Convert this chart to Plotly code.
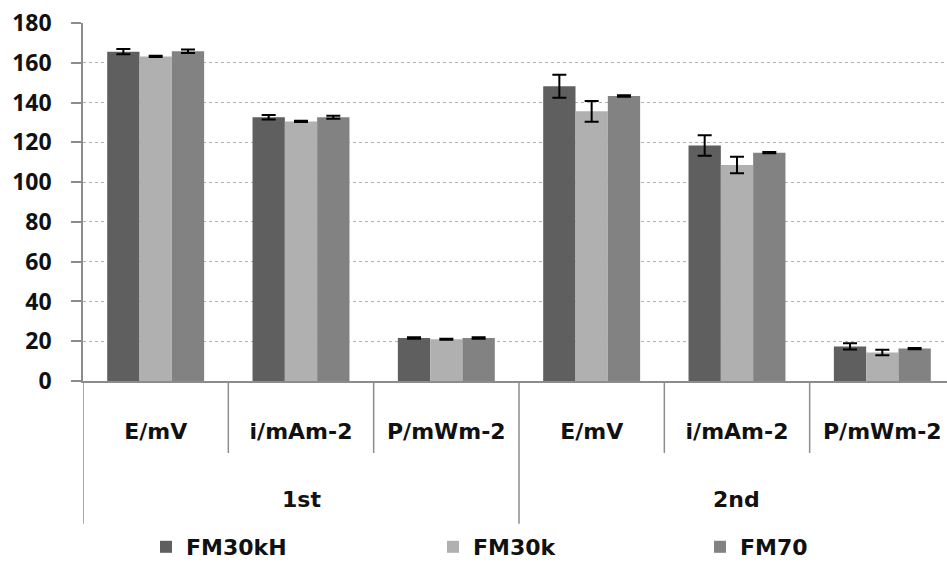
import plotly.graph_objects as go

# Measurement labels, two test rounds
rounds = ["1st", "2nd"]
measures = ["E/mV", "i/mAm-2", "P/mWm-2"]
tick_labels = measures * len(rounds)

series_names = ["FM30kH", "FM30k", "FM70"]
series_colors = ["#5f5f5f", "#b0b0b0", "#828282"]

# Mean values per measurement (1st round then 2nd round)
fm30kh_vals = [165.6, 132.6, 21.6, 148.2, 118.4, 17.4]
fm30k_vals = [163.2, 130.5, 21.0, 135.6, 108.6, 14.3]
fm70_vals = [165.8, 132.6, 21.6, 143.3, 114.8, 16.3]

# Standard deviations
fm30kh_err = [1.3, 1.1, 0.4, 5.8, 5.2, 1.6]
fm30k_err = [0.3, 0.3, 0.3, 5.2, 4.2, 1.4]
fm70_err = [0.9, 0.8, 0.4, 0.4, 0.3, 0.3]

values = [fm30kh_vals, fm30k_vals, fm70_vals]
errors = [fm30kh_err, fm30k_err, fm70_err]

positions = list(range(len(tick_labels)))

axis_gray = "#8c8c8c"
label_font = dict(family="DejaVu Sans", size=22, color="#111111", weight="bold")

# Each series gets its own legend box so the three entries spread out
legend_ids = ["legend", "legend2", "legend3"]
legend_x = [146, 433, 700]

fig = go.Figure()
for name, color, vals, errs, lid in zip(series_names, series_colors,
                                        values, errors, legend_ids):
    fig.add_trace(go.Bar(
        name=name,
        x=positions,
        y=vals,
        legend=lid,
        marker=dict(color=color, line=dict(width=0)),
        error_y=dict(type="data", array=errs, visible=True,
                     color="#000000", thickness=2, width=7),
    ))

# Divider lines under the category axis
shapes = []
n_per_round = len(measures)
for i in range(len(tick_labels)):
    xpos = i - 0.5
    y_end = -0.399 if i % n_per_round == 0 else -0.201
    shapes.append(dict(type="line", xref="x", yref="paper",
                       x0=xpos, x1=xpos, y0=0, y1=y_end,
                       line=dict(color=axis_gray, width=1.5)))

# Round labels centred under each group
annotations = []
for r, rname in enumerate(rounds):
    centre = r * n_per_round + (n_per_round - 1) / 2
    annotations.append(dict(text=rname, x=centre, xref="x", y=-0.332,
                            yref="paper", showarrow=False,
                            font=label_font, yanchor="middle"))

legend_layout = {}
for lid, lx in zip(legend_ids, legend_x):
    legend_layout[lid] = dict(
        orientation="h", xref="container", yref="container",
        x=lx / 947, xanchor="left", y=15 / 562, yanchor="middle",
        font=label_font, bgcolor="rgba(0,0,0,0)", itemclick=False,
    )

fig.update_layout(
    width=947, height=562,
    margin=dict(l=83, r=0, t=23, b=181, autoexpand=False),
    paper_bgcolor="white", plot_bgcolor="white",
    barmode="group", bargap=0.333, bargroupgap=0,
    shapes=shapes, annotations=annotations,
    showlegend=True,
    xaxis=dict(
        tickmode="array", tickvals=positions, ticktext=tick_labels,
        range=[-0.5, 5.445], showgrid=False, zeroline=False,
        showline=True, linecolor=axis_gray, linewidth=1.5,
        ticks="", tickfont=label_font, ticklabelstandoff=30,
        automargin=False,
    ),
    yaxis=dict(
        range=[0, 180], dtick=20, showgrid=True, gridcolor="#b0b0b0",
        griddash="dot", gridwidth=1, zeroline=False,
        showline=True, linecolor=axis_gray, linewidth=1.5,
        ticks="outside", ticklen=10, tickcolor=axis_gray, tickwidth=1.5,
        tickfont=dict(family="Open Sans", size=23, color="#111111",
                      weight="bold"),
        ticklabelstandoff=15, automargin=False,
    ),
    **legend_layout,
)

fig.write_html("out.html")
